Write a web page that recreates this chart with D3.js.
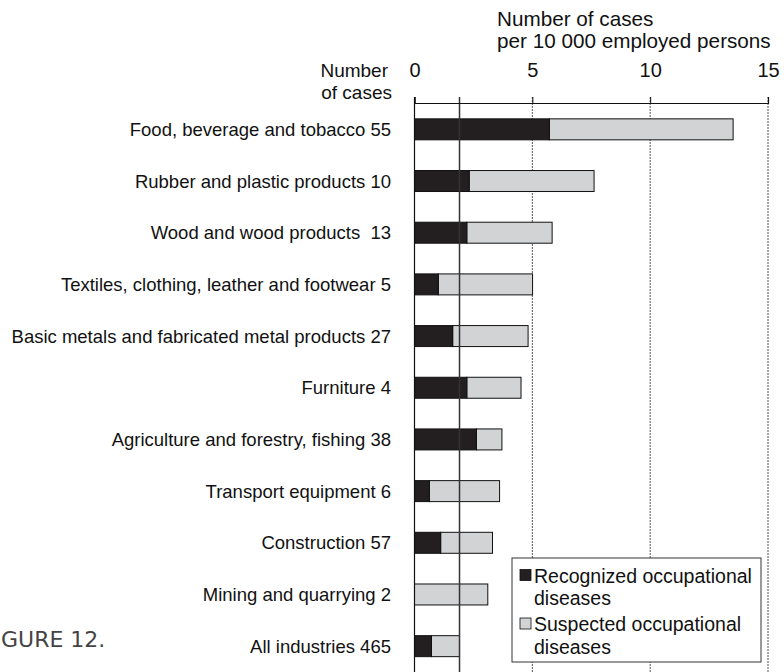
<!DOCTYPE html>
<html><head><meta charset="utf-8">
<script src="https://cdn.jsdelivr.net/npm/d3@7"></script>
<style>body{margin:0;background:#fff}svg{display:block}text{font-family:"Liberation Sans",Arial,sans-serif;fill:#111;white-space:pre}</style>
</head><body><div id="c"></div>
<script>
const categories = ["Food, beverage and tobacco","Rubber and plastic products","Wood and wood products ","Textiles, clothing, leather and footwear","Basic metals and fabricated metal products","Furniture","Agriculture and forestry, fishing","Transport equipment","Construction","Mining and quarrying","All industries"];
const caseCounts = [55,10,13,5,27,4,38,6,57,2,465];
const recognized = [5.72,2.32,2.22,1.01,1.62,2.22,2.63,0.63,1.11,0,0.72];
const suspected = [7.80,5.30,3.62,4.00,3.20,2.30,1.08,2.98,2.20,3.11,1.19];
const xTicks = [0,5,10,15];
const legendLabels = [["Recognized occupational","diseases"],["Suspected occupational","diseases"]];
const colors = ["#231f20","#d1d3d4"];

const W=784,H=672;
const svg=d3.select("#c").append("svg").attr("width",W).attr("height",H);
const x=d3.scaleLinear().domain([0,15]).range([414.5,768]);
const y=d3.scaleBand().domain(categories).range([103.5,672]).paddingInner(0.594).paddingOuter(0.297);
const avg = recognized[10]+suspected[10];

// figure caption (visible part as in the reference)
svg.append("text").attr("x",1).attr("y",647).style("font-family","'DejaVu Sans',Verdana,sans-serif").style("font-size","22px").style("fill","#444").text("GURE 12.");

// gridlines
const g=svg.append("g");
xTicks.slice(1).forEach(t=>{
  g.append("line").attr("x1",x(t)).attr("x2",x(t)).attr("y1",97).attr("y2",H).attr("stroke","#555").attr("stroke-width",1).attr("stroke-dasharray","2,1");
});
// bars
const rows=svg.append("g").selectAll("g").data(categories).join("g");
rows.append("rect").attr("x",(d,i)=>x(recognized[i])).attr("y",d=>y(d)).attr("width",(d,i)=>x(recognized[i]+suspected[i])-x(recognized[i])).attr("height",y.bandwidth()).attr("fill",colors[1]).attr("stroke","#111").attr("stroke-width",1);
rows.filter((d,i)=>recognized[i]>0).append("rect").attr("x",x(0)).attr("y",d=>y(d)).attr("width",d=>x(recognized[categories.indexOf(d)])-x(0)).attr("height",y.bandwidth()).attr("fill",colors[0]).attr("stroke","#111").attr("stroke-width",1);

// average line
svg.append("line").attr("x1",x(avg)).attr("x2",x(avg)).attr("y1",97).attr("y2",H).attr("stroke","#333").attr("stroke-width",1.5);
// zero line
svg.append("line").attr("x1",x(0)).attr("x2",x(0)).attr("y1",97).attr("y2",H).attr("stroke","#111").attr("stroke-width",1.2);

// top axis
const ax=svg.append("g").attr("transform","translate(0,103)").call(d3.axisTop(x).tickValues(xTicks).tickSize(6).tickPadding(20));
ax.select(".domain").attr("stroke","#111").attr("stroke-width",1.2);
ax.selectAll(".tick line").attr("stroke","#111");
ax.selectAll(".tick text").style("font-size","20px").style("font-family","'Liberation Sans',Arial,sans-serif").attr("fill","#111");

// titles
svg.append("text").attr("x",497).attr("y",26).style("font-size","20.7px").text("Number of cases");
svg.append("text").attr("x",497).attr("y",48).style("font-size","20.7px").text("per 10 000 employed persons");
svg.append("text").attr("x",388).attr("y",77).attr("text-anchor","end").style("font-size","19px").text("Number");
svg.append("text").attr("x",392).attr("y",99).attr("text-anchor","end").style("font-size","19px").text("of cases");

// category labels
rows.append("text").attr("x",391).attr("y",d=>y(d)+y.bandwidth()/2+6.5).attr("text-anchor","end").style("font-size","18.5px").text((d,i)=>d+" "+caseCounts[i]);

// legend
const lg=svg.append("g");
lg.append("rect").attr("x",512).attr("y",558).attr("width",249).attr("height",104).attr("fill","#fff").attr("stroke","#333").attr("stroke-width",1);
const ly=[[582.5,605],[631,654]];
legendLabels.forEach((lab,i)=>{
  lg.append("rect").attr("x",520).attr("y",ly[i][0]-13).attr("width",11).attr("height",11).attr("fill",colors[i]).attr("stroke","#111").attr("stroke-width",0.8);
  lg.append("text").attr("x",534).attr("y",ly[i][0]).style("font-size","19.5px").text(lab[0]);
  lg.append("text").attr("x",534).attr("y",ly[i][1]).style("font-size","19.5px").text(lab[1]);
});
</script></body></html>
